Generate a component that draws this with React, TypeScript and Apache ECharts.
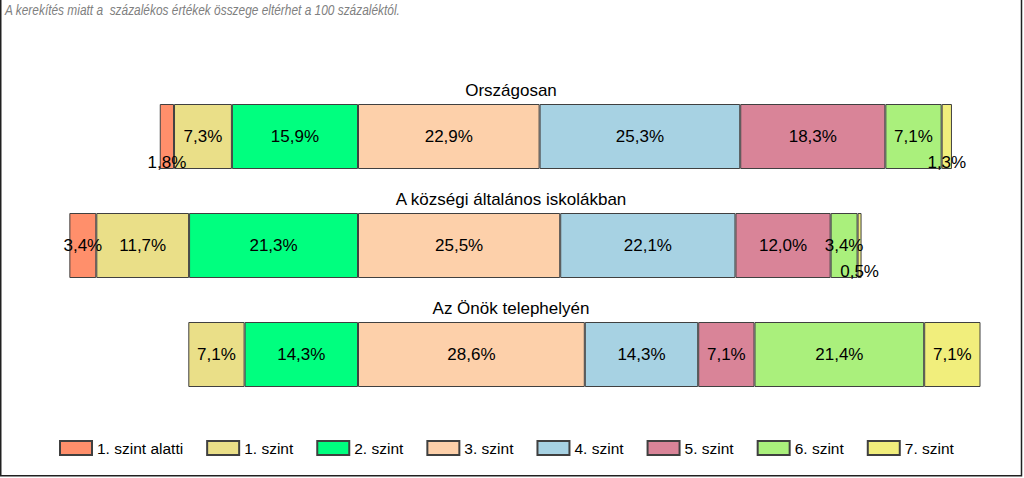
import React, { useEffect, useRef } from "react";
import * as echarts from "echarts";

const categories = ["Országosan", "A községi általános iskolákban", "Az Önök telephelyén"];
const levels = ["1. szint alatti", "1. szint", "2. szint", "3. szint", "4. szint", "5. szint", "6. szint", "7. szint"];
const below1 = [1.8, 3.4, 0];
const level1 = [7.3, 11.7, 7.1];
const level2 = [15.9, 21.3, 14.3];
const level3 = [22.9, 25.5, 28.6];
const level4 = [25.3, 22.1, 14.3];
const level5 = [18.3, 12.0, 7.1];
const level6 = [7.1, 3.4, 21.4];
const level7 = [1.3, 0.5, 7.1];
const levelColors = ["#FF8F6B", "#EADF88", "#00FF7F", "#FDD0AA", "#A7D2E3", "#D98498", "#AAF07C", "#F1EE7C"];
const note = "A kerekítés miatt a  százalékos értékek összege eltérhet a 100 százaléktól.";

const FONT = "'Liberation Sans', Arial, sans-serif";

export default function App() {
  const ref = useRef<HTMLDivElement>(null);
  useEffect(() => {
    document.body.style.margin = "0";
    const chart = echarts.init(ref.current!, null, { renderer: "svg" });
    const allValues = [below1, level1, level2, level3, level4, level5, level6, level7];
    // left side (negative) stacks outward from 0: 2. szint, 1. szint, 1. szint alatti
    const order = [2, 1, 0, 3, 4, 5, 6, 7];
    const barSeries = order.map((li) => {
      const sign = li <= 2 ? -1 : 1;
      return {
        name: levels[li],
        type: "bar",
        stack: "total",
        barWidth: 65,
        itemStyle: { color: levelColors[li], borderColor: "#404040", borderWidth: 1 },
        label: {
          show: true,
          position: "inside",
          color: "#000",
          fontSize: 17,
          fontFamily: FONT,
          formatter: (p: any) => Math.abs(p.value).toFixed(1).replace(".", ",") + "%",
        },
        data: allValues[li].map((v) =>
          v === 0
            ? { value: "-" }
            : v < 2
            ? { value: sign * v, label: { offset: [0, 26] } }
            : { value: sign * v }
        ),
      };
    });
    const titleSeries = {
      type: "custom",
      silent: true,
      data: categories.map((c, i) => [0, i]),
      encode: { x: 0, y: 1 },
      renderItem: (params: any, api: any) => {
        const pt = api.coord([0, api.value(1)]);
        return {
          type: "text",
          x: api.getWidth() / 2 - 1,
          y: pt[1] - 46.5,
          style: {
            text: categories[params.dataIndex],
            textAlign: "center",
            textVerticalAlign: "middle",
            fontSize: 17,
            fontFamily: FONT,
            fill: "#000",
          },
        };
      },
    };
    chart.setOption({
      animation: false,
      backgroundColor: "#fff",
      legend: {
        data: levels,
        left: 59,
        top: 440,
        padding: 0,
        itemWidth: 32,
        itemHeight: 14,
        itemGap: 23,
        icon: "rect",
        textStyle: { fontSize: 15.5, color: "#000", fontFamily: FONT },
      },
      grid: { left: 40.8, width: 951.6, top: 82, height: 327 },
      xAxis: { type: "value", min: -40, max: 80, show: false },
      yAxis: { type: "category", data: categories, inverse: true, show: false },
      series: [...barSeries, titleSeries],
      graphic: [
        {
          type: "text",
          x: 5,
          y: 10,
          scaleX: 0.85,
          silent: true,
          style: {
            text: note,
            textVerticalAlign: "middle",
            fontStyle: "italic",
            fontSize: 14,
            fontFamily: FONT,
            fill: "#808080",
          },
        },
        {
          type: "rect",
          shape: { x: 0.75, y: -10, width: 1020.75, height: 485.75 },
          style: { fill: "none", stroke: "#202020", lineWidth: 1.5 },
          silent: true,
        },
      ],
    });
    return () => chart.dispose();
  }, []);
  return <div ref={ref} style={{ width: 1024, height: 478, position: "absolute", left: 0, top: 0 }} />;
}
